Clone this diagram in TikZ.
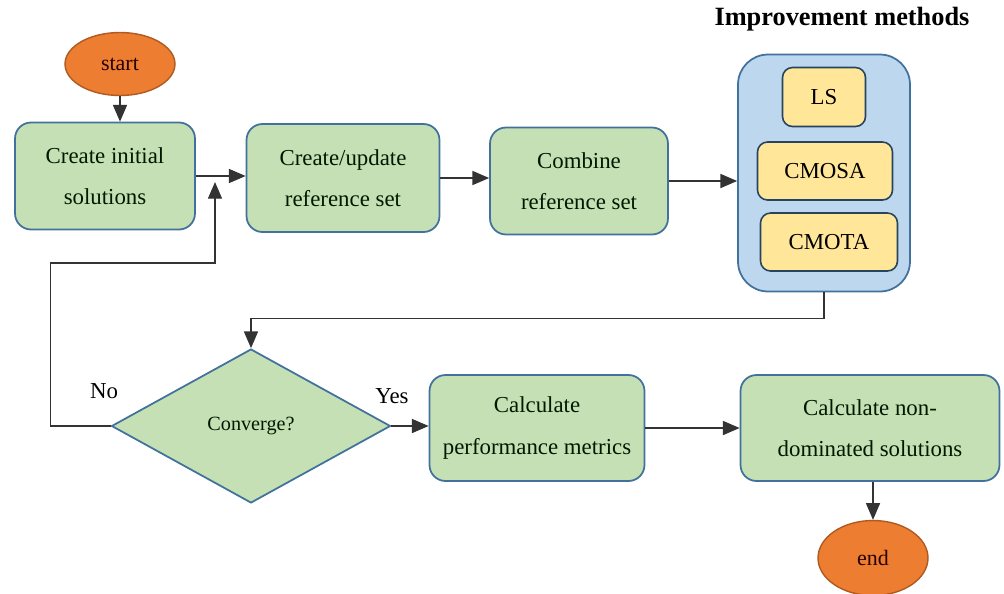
\documentclass[tikz,border=0pt]{standalone}
\usepackage{fontspec}
\setmainfont{Liberation Serif}
\usetikzlibrary{arrows.meta,shapes.geometric}

\definecolor{boxgreen}{HTML}{C5E0B4}
\definecolor{boxblue}{HTML}{BDD7EE}
\definecolor{boxyellow}{HTML}{FFE699}
\definecolor{termorange}{HTML}{ED7D31}
\definecolor{termedge}{HTML}{AE5A21}
\definecolor{edgeblue}{HTML}{41719C}

\begin{document}
\begin{tikzpicture}[x=0.02cm,y=-0.02cm,
  >={Triangle[length=9.5pt,width=8pt]},
  flow/.style={->,line width=0.7pt,black!80},
  proc/.style={draw=edgeblue,fill=boxgreen,line width=1pt,rounded corners=0.32cm,
    align=center,inner sep=0pt,font=\fontsize{13}{23.5}\selectfont,text=black!90!green},
  term/.style={ellipse,draw=termedge,fill=termorange,line width=0.8pt,inner sep=0pt,
    minimum width=2.2cm,minimum height=1.26cm,font=\fontsize{12.5}{14}\selectfont,text=black!85!red},
  meth/.style={draw=edgeblue!60!black,fill=boxyellow,line width=0.9pt,rounded corners=0.2cm,
    inner sep=0pt,minimum height=1.16cm,font=\fontsize{13}{15}\selectfont}]
  \useasboundingbox (0,0) rectangle (1004,593);

  % top row
  \node[term] (start) at (120,64) {start};
  \node[proc,minimum width=3.6cm,minimum height=2.14cm] (init) at (105,176)
    {Create initial\\solutions};
  \node[proc,minimum width=3.86cm,minimum height=2.16cm] (update) at (343,178)
    {Create/update\\reference set};
  \node[proc,minimum width=3.56cm,minimum height=2.14cm] (comb) at (579,181)
    {Combine\\reference set};

  % improvement methods
  \node[font=\bfseries\fontsize{15}{18}\selectfont] (title) at (842,19) {Improvement methods};
  \node[draw=edgeblue,fill=boxblue,line width=1pt,rounded corners=0.6cm,
    minimum width=3.44cm,minimum height=4.74cm] (impr) at (824,173) {};
  \node[meth,minimum width=1.66cm,minimum height=1.18cm] (ls) at (824,97) {LS};
  \node[meth,minimum width=2.7cm] (cmosa) at (825,171) {CMOSA};
  \node[meth,minimum width=2.74cm] (cmota) at (829,242) {CMOTA};

  % bottom row
  \node[diamond,draw=edgeblue,fill=boxgreen,line width=1pt,inner sep=0pt,aspect=1.81,
    minimum width=5.58cm,minimum height=3.08cm,font=\fontsize{11.5}{13}\selectfont,
    text=black!90!green] (conv) at (251,426) {Converge?};
  \node[proc,minimum width=4.3cm,minimum height=2.12cm] (perf) at (537,428)
    {Calculate\\performance metrics};
  \node[proc,minimum width=5.18cm,minimum height=2.12cm] (nondom) at (870,428)
    {Calculate non-\\dominated solutions};
  \node[term,minimum height=1.5cm] (end) at (873,558) {end};

  \coordinate (merge) at (215,182);

  \draw[flow] (start.south) -- (start.south |- init.north);
  \draw[flow] (init.east) -- (update.west |- init.east);
  \draw[flow] (update.east) -- (comb.west |- update.east);
  \draw[flow] (comb.east) -- (impr.west |- comb.east);
  \draw[flow] (impr.south) -- ++(0,26) -| (conv.north);
  \draw[flow] (conv.west) -- ++(-60,0) |- (215,263) -- (merge);
  \draw[flow] (conv.east) -- (perf.west |- conv.east);
  \draw[flow] (perf.east) -- (nondom.west |- perf.east);
  \draw[flow] (nondom.south -| end) -- (end);

  \node[font=\fontsize{13}{15}\selectfont] (no) at (104,391) {No};
  \node[font=\fontsize{13}{15}\selectfont] (yes) at (392,396) {Yes};
\end{tikzpicture}
\end{document}
